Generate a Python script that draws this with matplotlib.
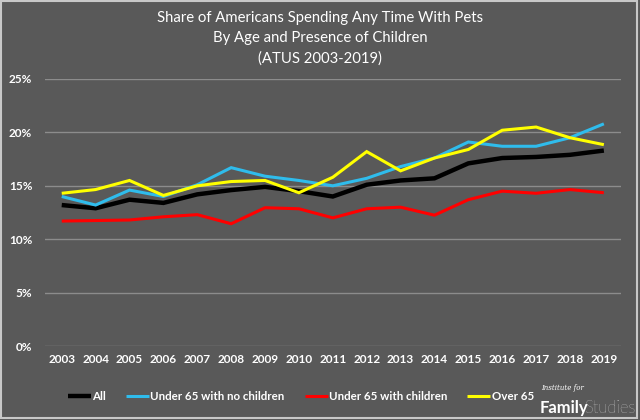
import matplotlib.pyplot as plt
from matplotlib.patches import Rectangle
from matplotlib.ticker import FuncFormatter

plt.rcParams["font.family"] = ["Lato", "DejaVu Sans"]

years = list(range(2003, 2020))
all_people = [13.2, 12.9, 13.7, 13.4, 14.2, 14.6, 14.9, 14.5, 14.0, 15.1, 15.5, 15.7, 17.1, 17.6, 17.7, 17.9, 18.3]
under65_no_kids = [14.0, 13.2, 14.6, 14.0, 15.1, 16.7, 15.9, 15.5, 15.0, 15.7, 16.8, 17.6, 19.1, 18.7, 18.7, 19.5, 20.8]
under65_kids = [11.7, 11.75, 11.8, 12.1, 12.3, 11.45, 12.95, 12.85, 12.0, 12.85, 13.0, 12.25, 13.7, 14.5, 14.3, 14.65, 14.35]
over65 = [14.3, 14.65, 15.5, 14.1, 15.0, 15.4, 15.5, 14.35, 15.8, 18.2, 16.4, 17.6, 18.4, 20.2, 20.5, 19.5, 18.85]

series = [
    ("All", all_people, "black", 3.2),
    ("Under 65 with no children", under65_no_kids, "#2fbcec", 2.2),
    ("Under 65 with children", under65_kids, "#ff0000", 2.2),
    ("Over 65", over65, "#ffff00", 2.2),
]

bg = "#595959"
fig = plt.figure(figsize=(6.4, 4.2), dpi=100, facecolor=bg)
ax = fig.add_axes([0.070, 0.176, 0.900, 0.636])
ax.set_facecolor(bg)

x = list(range(len(years)))
for label, vals, color, lw in series:
    ax.plot(x, [v / 100 for v in vals], color=color, lw=lw, label=label,
            solid_joinstyle="miter", solid_capstyle="butt")

ax.set_xlim(-0.5, len(years) - 0.5)
ax.set_ylim(0, 0.25)
ax.set_yticks([0, 0.05, 0.10, 0.15, 0.20, 0.25])
ax.yaxis.set_major_formatter(FuncFormatter(lambda v, p: f"{v * 100:.0f}%"))
ax.set_xticks(x)
ax.set_xticklabels([str(y) for y in years])
ax.grid(axis="y", color="#8c8c8c", lw=1)
ax.set_axisbelow(True)
for s in ax.spines.values():
    s.set_visible(False)
ax.tick_params(length=0, colors="white", labelsize=8.5, pad=6)
ax.tick_params(axis="y", pad=9)
for t in ax.get_xticklabels() + ax.get_yticklabels():
    t.set_fontweight("bold")

fig.text(0.5, 0.957, "Share of Americans Spending Any Time With Pets", ha="center", va="center",
         color="white", fontsize=10.7)
fig.text(0.5, 0.909, "By Age and Presence of Children", ha="center", va="center",
         color="white", fontsize=10.7)
fig.text(0.5, 0.861, "(ATUS 2003-2019)", ha="center", va="center",
         color="white", fontsize=10.7)

leg = fig.legend(loc="center", bbox_to_anchor=(0.47, 0.055), ncol=4, frameon=False,
                 handlelength=2.0, handletextpad=0.1, columnspacing=1.75,
                 prop={"size": 8.3, "weight": "bold"})
for t in leg.get_texts():
    t.set_color("white")

fig.text(0.845, 0.077, "Institute for", color="white", fontsize=5, style="italic",
         family="DejaVu Serif", ha="left", va="center")
fig.text(0.843, 0.028, "Family", color="white", fontsize=12, fontweight="bold",
         ha="left", va="center")
fig.text(0.913, 0.028, "Studies", color="white", fontsize=12, fontweight="light",
         ha="left", va="center")

fig.patches.append(Rectangle((0.002, 0.004), 0.993, 0.993, transform=fig.transFigure,
                             fill=False, edgecolor="#c8c8c8", lw=1.5))

fig.savefig("out.png", dpi=100, facecolor=bg)
